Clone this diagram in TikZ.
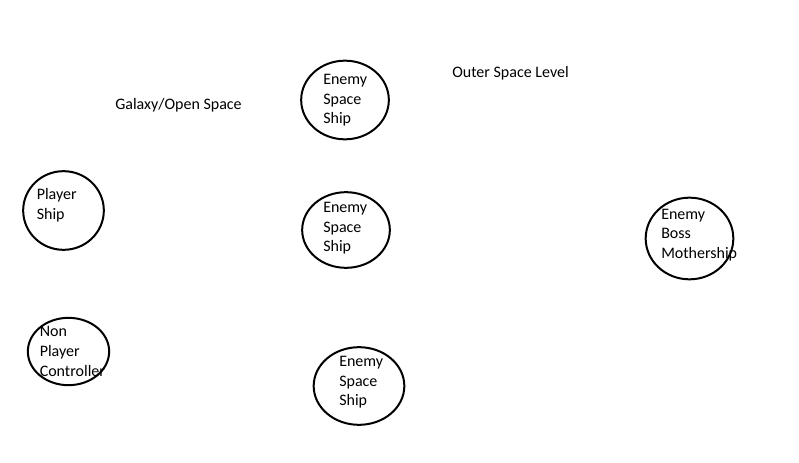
\documentclass[tikz,border=0pt]{standalone}
\usepackage{fontspec}
\setmainfont{Carlito}
\usetikzlibrary{shapes.geometric}
\begin{document}
\begin{tikzpicture}[x=0.75pt,y=-0.75pt,
  shipshape/.style={draw=black,line width=1.5pt,ellipse,inner sep=0pt},
  shiptext/.style={anchor=west,align=left,inner sep=0pt,font=\fontsize{12}{14.7}\selectfont},
  lvltext/.style={anchor=west,inner sep=0pt,font=\fontsize{12}{14.7}\selectfont}]
\useasboundingbox[fill=white] (0,0) rectangle (799,463);
% ellipses
\node[shipshape,minimum width=60.5pt,minimum height=59pt] (player) at (63.5,210.5) {};
\node[shipshape,minimum width=61pt,minimum height=50.5pt] (npc) at (68.5,351.5) {};
\node[shipshape,minimum width=65.75pt,minimum height=59pt] (enemyA) at (345,100) {};
\node[shipshape,minimum width=65.75pt,minimum height=56.75pt] (enemyB) at (346,230) {};
\node[shipshape,minimum width=68pt,minimum height=58.25pt] (enemyC) at (359,386) {};
\node[shipshape,minimum width=65.75pt,minimum height=61.25pt] (boss) at (689.5,238.5) {};
% texts
\node[shiptext] (playert) at (36.5,205) {Player\\Ship};
\node[shiptext] (npct) at (39.5,351.5) {Non\\Player\\Controller};
\node[shiptext] (enemyAt) at (323,100.5) {Enemy\\Space\\Ship};
\node[shiptext] (enemyBt) at (323,228.5) {Enemy\\Space\\Ship};
\node[shiptext] (enemyCt) at (339,382.5) {Enemy\\Space\\Ship};
\node[shiptext] (bosst) at (661,235) {Enemy\\Boss\\Mothership};
\node[lvltext] (galaxy) at (115,105.5) {Galaxy/Open Space};
\node[lvltext] (outer) at (452,73.5) {Outer Space Level};
\end{tikzpicture}
\end{document}
